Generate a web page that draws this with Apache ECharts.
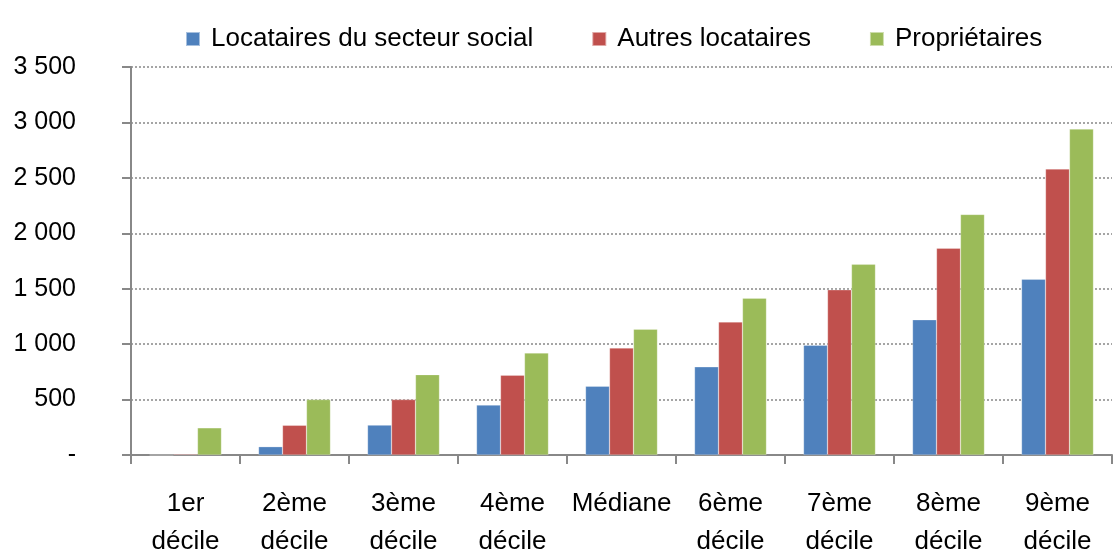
<!DOCTYPE html>
<html>
<head>
<meta charset="utf-8">
<script src="https://cdn.jsdelivr.net/npm/echarts@6/dist/echarts.min.js"></script>
<style>
  html, body { margin: 0; padding: 0; background: #fff; }
  #chart { width: 1116px; height: 554px; }
</style>
</head>
<body>
<div id="chart"></div>
<script>
// categories (deciles of income)
var categories = ["1er\ndécile", "2ème\ndécile", "3ème\ndécile", "4ème\ndécile", "Médiane",
    "6ème\ndécile", "7ème\ndécile", "8ème\ndécile", "9ème\ndécile"];
var seriesNames = ["Locataires du secteur social", "Autres locataires", "Propriétaires"];
// values
var socialValues = [0, 75, 270, 450, 620, 795, 990, 1220, 1585];
var autresValues = [8, 268, 500, 720, 965, 1200, 1490, 1865, 2580];
var proprioValues = [245, 500, 725, 920, 1135, 1415, 1720, 2170, 2940];
var colors = ["#4F81BD", "#C0504D", "#9BBB59"];

var chart = echarts.init(document.getElementById("chart"));

//格式化 : 0 -> "-" , 3500 -> "3 500"
function fmt(v) {
    if (v === 0) return "-";
    return String(v).replace(/\B(?=(\d{3})+(?!\d))/g, " ");
}

var font = "'Liberation Sans', Arial, sans-serif";
var allValues = [socialValues, autresValues, proprioValues];
var series = [];
for (var i = 0; i < 3; i++) {
    series.push({
        name: seriesNames[i],
        type: "bar",
        data: allValues[i],
        barGap: "0%",
        barCategoryGap: "34%",
        itemStyle: { color: colors[i], borderColor: "rgba(255,255,255,0.5)", borderWidth: 0.5 }
    });
}

chart.setOption({
    animation: false,
    textStyle: { fontFamily: font },
    legend: {
        left: 180,
        top: 21,
        itemWidth: 14,
        itemHeight: 14,
        itemGap: 58,
        icon: "rect",
        textStyle: { fontSize: 26, color: "#000", fontFamily: font, padding: [0, 0, 0, 6] },
        data: seriesNames
    },
    grid: { left: 131, right: 4, top: 67, bottom: 99, containLabel: false, outerBoundsMode: "none" },
    xAxis: {
        type: "category",
        data: categories,
        axisLine: { lineStyle: { color: "#888", width: 2 } },
        axisTick: { show: true, interval: 0, length: 9, lineStyle: { color: "#888", width: 2 } },
        axisLabel: { interval: 0, margin: 30, fontSize: 26, color: "#000", lineHeight: 38, fontFamily: font }
    },
    yAxis: {
        type: "value",
        min: 0,
        max: 3500,
        interval: 500,
        axisLine: { show: true, lineStyle: { color: "#888", width: 2 } },
        axisTick: { show: true, length: 9, lineStyle: { color: "#888", width: 2 } },
        axisLabel: { fontSize: 25, color: "#000", margin: 55, formatter: fmt, fontFamily: font },
        splitLine: { show: true, lineStyle: { color: "#888", type: [2, 2], width: 1.5 } }
    },
    series: series
});
</script>
</body>
</html>
